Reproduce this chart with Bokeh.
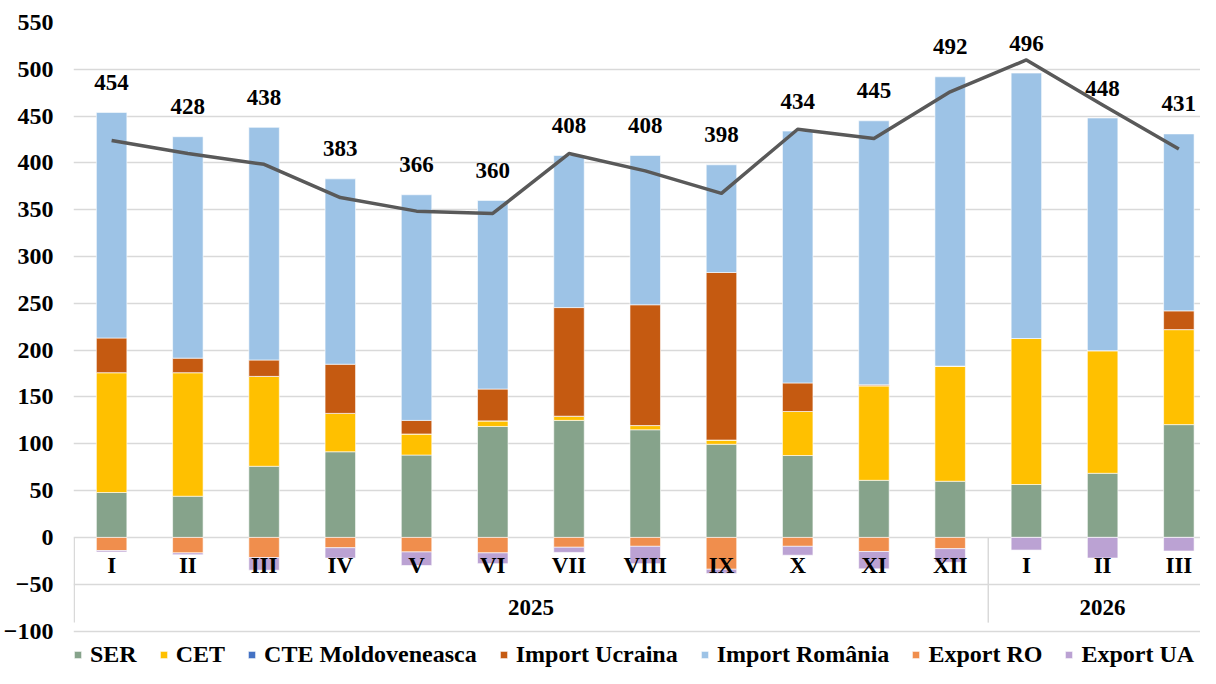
from bokeh.plotting import figure
from bokeh.models import Range1d, FixedTicker, Legend, LegendItem, ColumnDataSource
from bokeh.core.properties import value
from bokeh.embed import file_html
from bokeh.resources import INLINE

months = ["I", "II", "III", "IV", "V", "VI", "VII", "VIII", "IX", "X", "XI", "XII", "I", "II", "III"]
years = ["2025", "2026"]
year_pos = [5.5, 13.0]
year_sep = [-0.49, 11.5]

ser = [48, 44, 76, 91.5, 88, 118.5, 125, 115, 99.5, 87.5, 61, 60, 56.5, 68.5, 120.5]
cet = [128, 132, 96, 41, 22.5, 6, 4.5, 4.5, 4.5, 47, 101, 123, 156, 131, 101.5]
cte = [0] * 15
imp_ua = [37, 15.5, 17.5, 52.5, 14.5, 34, 116, 129, 179, 30.5, 1, 0, 0, 0, 20]
imp_ro = [241, 236.5, 248.5, 198, 241, 201.5, 162.5, 159.5, 115, 269, 282, 309, 283.5, 248.5, 189]
exp_ro = [-14, -16.5, -21.5, -11, -15.5, -16.5, -10.5, -9.5, -34, -9.5, -15, -12, 0, 0, 0]
exp_ua = [-1.5, -2, -13.5, -11, -14.5, -11.5, -5.5, -18.5, -4.5, -9.5, -18.5, -14.5, -13.5, -22, -14.5]
line_vals = [424, 410, 398.5, 363, 348.5, 346, 410, 391.5, 367.5, 436, 426, 476, 510, 462, 415]

names = ["SER", "CET", "CTE Moldoveneasca", "Import Ucraina", "Import România", "Export RO", "Export UA"]
colors = ["#86A38B", "#FFC000", "#4472C4", "#C55A11", "#9DC3E6", "#F08E4D", "#BBA2D3"]

FONT = "Liberation Serif"
x = list(range(len(months)))
totals = [round(a + b + c + d + e) for a, b, c, d, e in zip(ser, cet, cte, imp_ua, imp_ro)]
ticks = list(range(-100, 551, 50))

src = ColumnDataSource(dict(x=x, SER=ser, CET=cet, CTE=cte, IUA=imp_ua, IRO=imp_ro,
                            ERO=exp_ro, EUA=exp_ua, line=line_vals,
                            tot_y=[t + 32 for t in totals],
                            tot_txt=[str(t) for t in totals],
                            mon=months, mon_y=[-30] * len(months)))

p = figure(width=1200, height=668, output_backend="svg", toolbar_location=None,
           x_range=Range1d(-0.5, 14.284), y_range=Range1d(-140, 550),
           x_axis_location=None, min_border=0, min_border_left=64, min_border_right=0,
           min_border_top=22, min_border_bottom=0)
p.outline_line_color = None
p.xgrid.visible = False
p.ygrid.grid_line_color = "#D9D9D9"
p.ygrid.grid_line_width = 1.5
p.ygrid.ticker = FixedTicker(ticks=ticks)

ax = p.yaxis[0]
ax.ticker = FixedTicker(ticks=ticks)
ax.axis_line_color = None
ax.major_tick_line_color = None
ax.minor_tick_line_color = None
ax.major_tick_out = 0
ax.major_tick_in = 0
ax.major_label_text_font = FONT
ax.major_label_text_font_style = "bold"
ax.major_label_text_font_size = "24px"
ax.major_label_text_color = "black"
ax.major_label_standoff = 20

# separators of category table
p.segment(x0=year_sep, x1=year_sep, y0=[0, 0], y1=[-91, -91], line_color="#D9D9D9", line_width=1.5)

pos = p.vbar_stack(["SER", "CET", "CTE", "IUA", "IRO"], x="x", width=0.4, source=src,
                   color=colors[:5], line_color="white", line_width=0.6)
neg = p.vbar_stack(["ERO", "EUA"], x="x", width=0.4, source=src,
                   color=colors[5:], line_color="white", line_width=0.6)

p.line(x="x", y="line", source=src, line_color="#595959", line_width=3.5, line_join="round")

p.text(x="x", y="tot_y", text="tot_txt", source=src, text_font=value(FONT), text_font_style="bold",
       text_font_size="23px", text_align="center", text_baseline="middle", text_color="black")
p.text(x="x", y="mon_y", text="mon", source=src, text_font=value(FONT), text_font_style="bold",
       text_font_size="23px", text_align="center", text_baseline="middle", text_color="black")
p.text(x=year_pos, y=[-75, -75], text=years, text_font=value(FONT), text_font_style="bold",
       text_font_size="23px", text_align="center", text_baseline="middle", text_color="black")

rends = pos + neg
legend = Legend(items=[LegendItem(label=n, renderers=[r]) for n, r in zip(names, rends)],
                orientation="horizontal", location=(0, 0))
legend.label_text_font = FONT
legend.label_text_font_style = "bold"
legend.label_text_font_size = "24px"
legend.label_text_color = "black"
legend.glyph_width = 9
legend.glyph_height = 9
legend.label_standoff = 8
legend.spacing = 22
legend.padding = 0
legend.margin = 0
legend.label_height = 20
legend.border_line_color = None
legend.background_fill_alpha = 0
p.add_layout(legend, "center")

open("out.html", "w").write(file_html(p, INLINE))
